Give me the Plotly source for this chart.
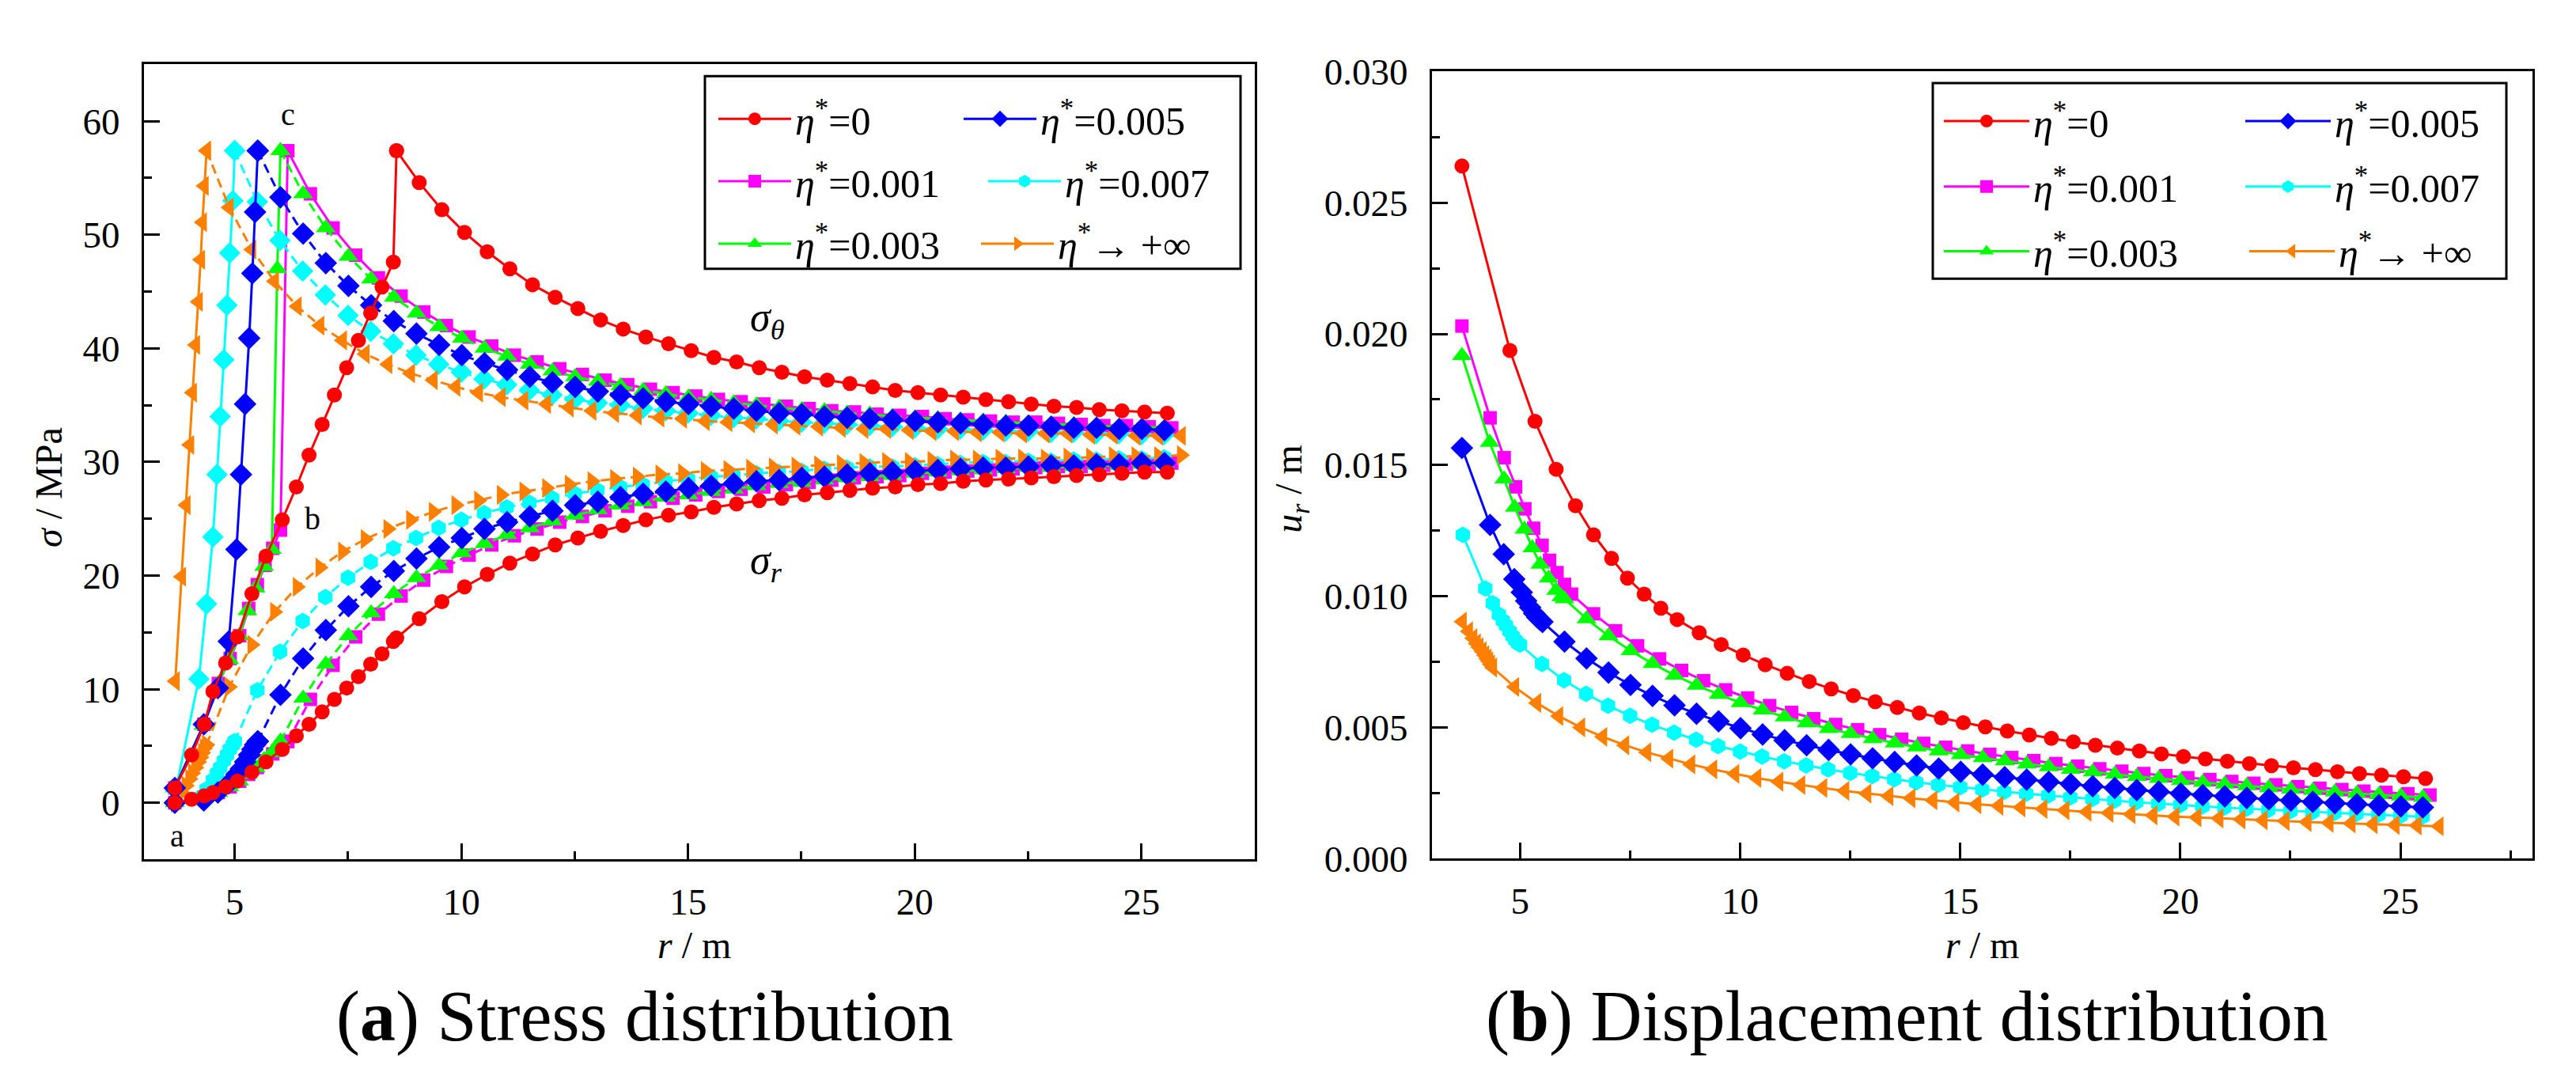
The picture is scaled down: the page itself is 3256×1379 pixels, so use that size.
import plotly.graph_objects as go

W, H = 3256, 1379
FONT = "Liberation Serif"

# ---------------- data ----------------
# eta* = 0 (red)
r_pl_red_s = [3.68, 4.05, 4.33, 4.52, 4.80, 5.06, 5.38, 5.69, 6.05, 6.36, 6.64, 6.93, 7.20, 7.47, 7.73, 8.00, 8.25, 8.50]
sth_pl_red = [1.3, 4.2, 6.9, 9.8, 12.3, 14.6, 18.4, 21.7, 24.9, 27.8, 30.6, 33.3, 35.9, 38.3, 40.7, 43.1, 45.4, 47.6]
sr_pl_red = [0.0, 0.3, 0.6, 0.9, 1.4, 1.9, 2.7, 3.6, 4.7, 5.9, 6.9, 8.0, 9.1, 10.1, 11.1, 12.2, 13.1, 14.2]
r_pl_red_u = [3.68, 4.77, 5.34, 5.82, 6.26, 6.67, 7.08, 7.44, 7.82, 8.20]
u_pl_red = [0.0264, 0.01937, 0.01667, 0.01484, 0.01345, 0.01234, 0.01144, 0.01069, 0.01008, 0.00954]
r_el_red = [8.57, 9.07, 9.57, 10.07, 10.57, 11.07, 11.57, 12.07, 12.57, 13.07, 13.57, 14.07, 14.57, 15.07,
            15.57, 16.07, 16.57, 17.07, 17.57, 18.07, 18.57, 19.07, 19.57, 20.07, 20.57, 21.07, 21.57,
            22.07, 22.57, 23.07, 23.57, 24.07, 24.57, 25.07, 25.57]
sth_el_red = [57.4, 54.6, 52.2, 50.2, 48.5, 47.0, 45.6, 44.5, 43.5, 42.5, 41.7, 41.0, 40.4, 39.8, 39.2, 38.8,
              38.3, 37.9, 37.5, 37.2, 36.9, 36.6, 36.3, 36.1, 35.9, 35.7, 35.5, 35.3, 35.1, 34.9, 34.8, 34.6,
              34.5, 34.4, 34.3]
sr_el_red = [14.5, 16.2, 17.7, 19.0, 20.1, 21.1, 21.9, 22.7, 23.3, 23.9, 24.4, 24.9, 25.3, 25.6, 26.0, 26.3,
             26.6, 26.8, 27.1, 27.3, 27.5, 27.7, 27.8, 28.0, 28.1, 28.3, 28.4, 28.5, 28.6, 28.7, 28.8, 28.9,
             29.0, 29.1, 29.1]
u_el_red = [0.00911, 0.00861, 0.00816, 0.00776, 0.00739, 0.00706, 0.00675, 0.00647, 0.00621, 0.00598,
            0.00576, 0.00555, 0.00536, 0.00518, 0.00502, 0.00486, 0.00471, 0.00458, 0.00445, 0.00432,
            0.00421, 0.0041, 0.00399, 0.00389, 0.0038, 0.00371, 0.00362, 0.00354, 0.00346, 0.00339,
            0.00331, 0.00324, 0.00318, 0.00312, 0.00305]

# eta* = 0.001 (magenta)
r_pl_mag = [3.68, 4.32, 4.64, 4.90, 5.11, 5.31, 5.50, 5.67, 5.84, 6.01]
sth_pl_mag = [1.3, 6.9, 10.5, 12.7, 14.7, 17.1, 19.2, 20.9, 22.4, 24.0]
sr_pl_mag = [0.0, 0.5, 0.9, 1.4, 1.9, 2.5, 3.1, 3.7, 4.3, 4.9]
u_pl_mag = [0.0203, 0.0168, 0.01528, 0.01417, 0.01333, 0.01259, 0.01194, 0.01137, 0.0109, 0.01045]
r_el_mag = [6.17, 6.67, 7.17, 7.67, 8.17, 8.67, 9.17, 9.67, 10.17, 10.67, 11.17, 11.67, 12.17, 12.67, 13.17,
            13.67, 14.17, 14.67, 15.17, 15.67, 16.17, 16.67, 17.17, 17.67, 18.17, 18.67, 19.17, 19.67,
            20.17, 20.67, 21.17, 21.67, 22.17, 22.67, 23.17, 23.67, 24.17, 24.67, 25.17, 25.67]
sth_el_mag = [57.4, 53.6, 50.6, 48.2, 46.2, 44.6, 43.2, 42.0, 41.0, 40.2, 39.4, 38.8, 38.2, 37.7, 37.2, 36.8,
              36.4, 36.1, 35.8, 35.5, 35.3, 35.1, 34.9, 34.7, 34.5, 34.4, 34.2, 34.1, 34.0, 33.8, 33.7, 33.6,
              33.5, 33.5, 33.4, 33.3, 33.2, 33.2, 33.1, 33.0]
sr_el_mag = [5.4, 9.1, 12.1, 14.6, 16.6, 18.2, 19.6, 20.8, 21.8, 22.7, 23.5, 24.1, 24.7, 25.2, 25.7, 26.1,
             26.5, 26.8, 27.1, 27.4, 27.6, 27.8, 28.0, 28.2, 28.4, 28.6, 28.7, 28.8, 29.0, 29.1, 29.2, 29.3,
             29.4, 29.5, 29.6, 29.6, 29.7, 29.8, 29.8, 29.9]
u_el_mag = [0.01008, 0.00933, 0.00868, 0.00811, 0.00761, 0.00717, 0.00678, 0.00643, 0.00612, 0.00583,
            0.00557, 0.00533, 0.00511, 0.00491, 0.00472, 0.00455, 0.00439, 0.00424, 0.0041, 0.00397,
            0.00385, 0.00373, 0.00362, 0.00352, 0.00342, 0.00333, 0.00324, 0.00316, 0.00308, 0.00301,
            0.00294, 0.00287, 0.00281, 0.00274, 0.00268, 0.00263, 0.00257, 0.00252, 0.00247, 0.00242]

# eta* = 0.003 (green)
r_pl_grn = [3.68, 4.31, 4.64, 4.88, 5.10, 5.28, 5.46, 5.65, 5.82, 5.94]
sth_pl_grn = [1.3, 6.8, 10.5, 12.6, 14.7, 16.9, 18.9, 20.8, 22.3, 47.0]
sr_pl_grn = [0.0, 0.5, 0.9, 1.4, 1.9, 2.5, 3.1, 3.8, 4.4, 4.9]
u_pl_grn = [0.01917, 0.01586, 0.01447, 0.01339, 0.01255, 0.01184, 0.01122, 0.01069, 0.01022, 0.00998]
r_el_grn = [6.01, 6.51, 7.01, 7.51, 8.01, 8.51, 9.01, 9.51, 10.01, 10.51, 11.01, 11.51, 12.01, 12.51, 13.01,
            13.51, 14.01, 14.51, 15.01, 15.51, 16.01, 16.51, 17.01, 17.51, 18.01, 18.51, 19.01, 19.51,
            20.01, 20.51, 21.01, 21.51, 22.01, 22.51, 23.01, 23.51, 24.01, 24.51, 25.01, 25.51]
sth_el_grn = [57.4, 53.6, 50.6, 48.1, 46.1, 44.5, 43.1, 41.9, 40.9, 40.0, 39.3, 38.6, 38.0, 37.5, 37.1, 36.7,
              36.3, 36.0, 35.7, 35.5, 35.2, 35.0, 34.8, 34.6, 34.5, 34.3, 34.2, 34.0, 33.9, 33.8, 33.7, 33.6,
              33.5, 33.4, 33.3, 33.3, 33.2, 33.1, 33.1, 33.0]
sr_el_grn = [5.4, 9.2, 12.2, 14.7, 16.7, 18.4, 19.8, 20.9, 22.0, 22.8, 23.6, 24.2, 24.8, 25.3, 25.8, 26.2,
             26.5, 26.9, 27.1, 27.4, 27.6, 27.9, 28.1, 28.2, 28.4, 28.6, 28.7, 28.8, 29.0, 29.1, 29.2, 29.3,
             29.4, 29.5, 29.5, 29.6, 29.7, 29.7, 29.8, 29.9]
u_el_grn = [0.0099, 0.00914, 0.00849, 0.00792, 0.00743, 0.00699, 0.0066, 0.00626, 0.00594, 0.00566,
            0.0054, 0.00517, 0.00495, 0.00476, 0.00457, 0.0044, 0.00425, 0.0041, 0.00396, 0.00384,
            0.00372, 0.0036, 0.0035, 0.0034, 0.0033, 0.00321, 0.00313, 0.00305, 0.00297, 0.0029,
            0.00283, 0.00277, 0.0027, 0.00264, 0.00259, 0.00253, 0.00248, 0.00243, 0.00238, 0.00233]

# eta* = 0.005 (blue)
r_pl_blu = [3.68, 4.32, 4.63, 4.87, 5.04, 5.14, 5.23, 5.32, 5.39, 5.45]
sth_pl_blu = [1.3, 6.9, 10.1, 14.2, 22.3, 28.9, 35.1, 40.9, 46.6, 52.0]
sr_pl_blu = [0.0, 0.2, 0.9, 1.7, 2.5, 3.0, 3.6, 4.2, 4.7, 5.1]
u_pl_blu = [0.01565, 0.01272, 0.0116, 0.01065, 0.01015, 0.00982, 0.00957, 0.00935, 0.0092, 0.00911]
r_el_blu = [5.51, 6.01, 6.51, 7.01, 7.51, 8.01, 8.51, 9.01, 9.51, 10.01, 10.51, 11.01, 11.51, 12.01, 12.51,
            13.01, 13.51, 14.01, 14.51, 15.01, 15.51, 16.01, 16.51, 17.01, 17.51, 18.01, 18.51, 19.01,
            19.51, 20.01, 20.51, 21.01, 21.51, 22.01, 22.51, 23.01, 23.51, 24.01, 24.51, 25.01, 25.51]
sth_el_blu = [57.4, 53.3, 50.1, 47.5, 45.5, 43.8, 42.4, 41.3, 40.3, 39.4, 38.7, 38.1, 37.5, 37.0, 36.6, 36.2,
              35.9, 35.6, 35.3, 35.1, 34.9, 34.7, 34.5, 34.3, 34.2, 34.0, 33.9, 33.8, 33.7, 33.6, 33.5, 33.4,
              33.3, 33.2, 33.2, 33.1, 33.0, 33.0, 32.9, 32.9, 32.8]
sr_el_blu = [5.4, 9.5, 12.7, 15.2, 17.3, 19.0, 20.4, 21.5, 22.5, 23.3, 24.1, 24.7, 25.2, 25.7, 26.2, 26.5,
             26.9, 27.2, 27.4, 27.7, 27.9, 28.1, 28.3, 28.4, 28.6, 28.7, 28.9, 29.0, 29.1, 29.2, 29.3, 29.4,
             29.5, 29.5, 29.6, 29.7, 29.7, 29.8, 29.8, 29.9, 29.9]
u_el_blu = [0.00902, 0.00827, 0.00763, 0.00709, 0.00662, 0.0062, 0.00584, 0.00552, 0.00523, 0.00497,
            0.00473, 0.00451, 0.00432, 0.00414, 0.00397, 0.00382, 0.00368, 0.00355, 0.00343, 0.00331,
            0.0032, 0.0031, 0.00301, 0.00292, 0.00284, 0.00276, 0.00269, 0.00261, 0.00255, 0.00248,
            0.00242, 0.00237, 0.00231, 0.00226, 0.00221, 0.00216, 0.00211, 0.00207, 0.00203, 0.00199, 0.00195]

# eta* = 0.007 (cyan)
r_pl_cyn = [3.70, 4.21, 4.38, 4.52, 4.61, 4.68, 4.76, 4.83, 4.89, 4.96]
sth_pl_cyn = [1.1, 10.9, 17.5, 23.4, 28.9, 34.0, 39.0, 43.8, 48.4, 53.0]
sr_pl_cyn = [0.0, 0.4, 1.2, 2.0, 2.6, 3.1, 3.7, 4.2, 4.7, 5.1]
u_pl_cyn = [0.01234, 0.0103, 0.00973, 0.0093, 0.00907, 0.00889, 0.00867, 0.00848, 0.00833, 0.0082]
r_el_cyn = [5.0, 5.5, 6.0, 6.5, 7.0, 7.5, 8.0, 8.5, 9.0, 9.5, 10.0, 10.5, 11.0, 11.5, 12.0, 12.5, 13.0, 13.5,
            14.0, 14.5, 15.0, 15.5, 16.0, 16.5, 17.0, 17.5, 18.0, 18.5, 19.0, 19.5, 20.0, 20.5, 21.0, 21.5,
            22.0, 22.5, 23.0, 23.5, 24.0, 24.5, 25.0, 25.5]
sth_el_cyn = [57.4, 52.9, 49.5, 46.8, 44.7, 42.9, 41.5, 40.4, 39.4, 38.6, 37.9, 37.3, 36.8, 36.3, 35.9, 35.5,
              35.2, 35.0, 34.7, 34.5, 34.3, 34.1, 33.9, 33.8, 33.6, 33.5, 33.4, 33.3, 33.2, 33.1, 33.0, 32.9,
              32.9, 32.8, 32.7, 32.7, 32.6, 32.6, 32.5, 32.5, 32.4, 32.4]
sr_el_cyn = [5.4, 9.9, 13.3, 16.0, 18.1, 19.8, 21.2, 22.4, 23.3, 24.2, 24.9, 25.5, 26.0, 26.4, 26.8, 27.2,
             27.5, 27.8, 28.0, 28.3, 28.5, 28.7, 28.8, 29.0, 29.1, 29.2, 29.4, 29.5, 29.6, 29.6, 29.7, 29.8,
             29.9, 30.0, 30.0, 30.1, 30.1, 30.2, 30.2, 30.3, 30.3, 30.4]
u_el_cyn = [0.00816, 0.00742, 0.0068, 0.00628, 0.00583, 0.00544, 0.0051, 0.0048, 0.00453, 0.00429,
            0.00408, 0.00389, 0.00371, 0.00355, 0.0034, 0.00326, 0.00314, 0.00302, 0.00291, 0.00281,
            0.00272, 0.00263, 0.00255, 0.00247, 0.0024, 0.00233, 0.00227, 0.00221, 0.00215, 0.00209,
            0.00204, 0.00199, 0.00194, 0.0019, 0.00185, 0.00181, 0.00177, 0.00174, 0.0017, 0.00167,
            0.00163, 0.0016]

# eta* -> +inf (orange)
r_pl_org = [3.69, 3.83, 3.93, 4.01, 4.07, 4.14, 4.20, 4.25, 4.29, 4.33]
sth_pl_org = [10.7, 19.9, 26.2, 31.5, 36.1, 40.3, 44.1, 47.8, 51.1, 54.3]
sr_pl_org = [0.0, 0.9, 1.5, 2.1, 2.6, 3.1, 3.6, 4.0, 4.4, 4.8]
u_pl_org = [0.00903, 0.00866, 0.0084, 0.0082, 0.00805, 0.0079, 0.00775, 0.00762, 0.00752, 0.0074]
r_el_org = [4.38, 4.88, 5.38, 5.88, 6.38, 6.88, 7.38, 7.88, 8.38, 8.88, 9.38, 9.88, 10.38, 10.88, 11.38,
            11.88, 12.38, 12.88, 13.38, 13.88, 14.38, 14.88, 15.38, 15.88, 16.38, 16.88, 17.38, 17.88,
            18.38, 18.88, 19.38, 19.88, 20.38, 20.88, 21.38, 21.88, 22.38, 22.88, 23.38, 23.88, 24.38,
            24.88, 25.38, 25.88]
sth_el_org = [57.4, 52.4, 48.7, 45.9, 43.7, 42.0, 40.7, 39.5, 38.6, 37.8, 37.2, 36.6, 36.1, 35.7, 35.4, 35.1,
              34.8, 34.5, 34.3, 34.1, 33.9, 33.8, 33.6, 33.5, 33.4, 33.3, 33.2, 33.1, 33.0, 32.9, 32.9, 32.8,
              32.7, 32.7, 32.6, 32.6, 32.5, 32.5, 32.5, 32.4, 32.4, 32.3, 32.3, 32.3]
sr_el_org = [5.1, 10.2, 13.9, 16.8, 19.0, 20.7, 22.1, 23.2, 24.1, 24.9, 25.6, 26.2, 26.6, 27.1, 27.4, 27.7,
             28.0, 28.3, 28.5, 28.7, 28.9, 29.0, 29.2, 29.3, 29.4, 29.5, 29.6, 29.7, 29.8, 29.9, 30.0, 30.0,
             30.1, 30.2, 30.2, 30.3, 30.3, 30.3, 30.4, 30.4, 30.5, 30.5, 30.5, 30.6]
u_el_org = [0.00728, 0.00654, 0.00593, 0.00543, 0.005, 0.00464, 0.00432, 0.00405, 0.00381, 0.00359,
            0.0034, 0.00323, 0.00307, 0.00293, 0.0028, 0.00269, 0.00258, 0.00248, 0.00238, 0.0023,
            0.00222, 0.00214, 0.00207, 0.00201, 0.00195, 0.00189, 0.00184, 0.00178, 0.00174, 0.00169,
            0.00165, 0.0016, 0.00157, 0.00153, 0.00149, 0.00146, 0.00143, 0.00139, 0.00136, 0.00134,
            0.00131, 0.00128, 0.00126, 0.00123]

# ---------------- styling ----------------
DASH = "12px,7px"
LW = 3

# (key, color, symbol sigma_theta, symbol sigma_r, symbol u, size, dash elastic theta, dash elastic r, stress, disp)
series = [
    ("0.001", "#FF00FF", "square", "square", "square", 17, "solid", DASH,
     (r_pl_mag, sth_pl_mag, sr_pl_mag, r_el_mag, sth_el_mag, sr_el_mag), (r_pl_mag, u_pl_mag, r_el_mag, u_el_mag)),
    ("0.003", "#00FF00", "triangle-up", "triangle-up", "triangle-up", 22, DASH, DASH,
     (r_pl_grn, sth_pl_grn, sr_pl_grn, r_el_grn, sth_el_grn, sr_el_grn), (r_pl_grn, u_pl_grn, r_el_grn, u_el_grn)),
    ("0.007", "#00FFFF", "diamond", "hexagon", "hexagon", 21, DASH, DASH,
     (r_pl_cyn, sth_pl_cyn, sr_pl_cyn, r_el_cyn, sth_el_cyn, sr_el_cyn), (r_pl_cyn, u_pl_cyn, r_el_cyn, u_el_cyn)),
    ("+inf", "#FF8000", "triangle-left", "triangle-right", "triangle-left", 22, DASH, DASH,
     (r_pl_org, sth_pl_org, sr_pl_org, r_el_org, sth_el_org, sr_el_org), (r_pl_org, u_pl_org, r_el_org, u_el_org)),
    ("0.005", "#0000FF", "diamond", "diamond", "diamond", 22, DASH, DASH,
     (r_pl_blu, sth_pl_blu, sr_pl_blu, r_el_blu, sth_el_blu, sr_el_blu), (r_pl_blu, u_pl_blu, r_el_blu, u_el_blu)),
    ("0", "#FF0000", "circle", "circle", "circle", 19, "solid", "solid",
     (r_pl_red_s, sth_pl_red, sr_pl_red, r_el_red, sth_el_red, sr_el_red), (r_pl_red_u, u_pl_red, r_el_red, u_el_red)),
]


def px(x):
    return x / W


def py(y):
    return 1 - y / H


fig = go.Figure()


def add_line(x, y, color, sym, size, dash, xa, ya):
    fig.add_trace(go.Scatter(
        x=x, y=y, mode="lines+markers", xaxis=xa, yaxis=ya, showlegend=False,
        line=dict(color=color, width=LW, dash=dash),
        marker=dict(symbol=sym, size=size, color=color, line=dict(width=0)),
        hoverinfo="skip"))


for key, col, s_th, s_r, s_u, size, d_th, d_r, st, dp in series:
    r_pl, th_pl, rr_pl, r_el, th_el, rr_el = st
    add_line(r_pl + r_el[:1], th_pl + th_el[:1], col, s_th, size, "solid", "x", "y")
    add_line(r_el, th_el, col, s_th, size, d_th, "x", "y")
    add_line(r_pl + r_el[:1], rr_pl + rr_el[:1], col, s_r, size, "solid", "x", "y")
    add_line(r_el, rr_el, col, s_r, size, d_r, "x", "y")
    ru_pl, u_pl, ru_el, u_el = dp
    add_line(ru_pl + ru_el, u_pl + u_el, col, s_u, size, "solid", "x2", "y2")

# ---------------- legends (one legend per entry, Origin-like 2x3 grid) ----------------
legend_layout = {}
style = {s[0]: s for s in series}
left_entries = [  # key, legend left px, row centre px, marker symbol
    ("0", 903, 129, "circle"), ("0.005", 1213, 129, "diamond"),
    ("0.001", 903, 211, "square"), ("0.007", 1244, 211, "hexagon"),
    ("0.003", 903, 293, "triangle-up"), ("+inf", 1235, 293, "triangle-right"),
]
right_entries = [
    ("0", 2452, 132, "circle"), ("0.005", 2833, 132, "diamond"),
    ("0.001", 2452, 218, "square"), ("0.007", 2833, 218, "hexagon"),
    ("0.003", 2452, 303, "triangle-up"), ("+inf", 2838, 303, "triangle-left"),
]
n = 0
for entries, iw in ((left_entries, 92), (right_entries, 108)):
    for key, lx, ly, sym in entries:
        n += 1
        lname = "legend" if n == 1 else f"legend{n}"
        col = style[key][1]
        text = ("<i>η</i><sup>*</sup>→ +∞" if key == "+inf" else f"<i>η</i><sup>*</sup>={key}")
        fig.add_trace(go.Scatter(
            x=[None], y=[None], mode="lines+markers", name=text, legend=lname,
            xaxis="x", yaxis="y", showlegend=True,
            line=dict(color=col, width=LW),
            marker=dict(symbol=sym, size=18, color=col, line=dict(width=0))))
        legend_layout[lname] = dict(
            x=px(lx), y=py(ly), xanchor="left", yanchor="middle",
            bgcolor="rgba(0,0,0,0)", borderwidth=0, itemwidth=iw,
            font=dict(family=FONT, size=50, color="black"))

axis_common = dict(
    showline=True, linecolor="black", linewidth=3, mirror=True,
    ticks="inside", ticklen=20, tickwidth=3, tickcolor="black",
    showgrid=False, zeroline=False,
    tickfont=dict(family=FONT, size=47, color="black"),
)
minor_common = dict(ticks="inside", ticklen=10, tickwidth=3, tickcolor="black", showgrid=False)

fig.update_layout(
    width=W, height=H,
    margin=dict(l=0, r=0, t=0, b=0),
    paper_bgcolor="white", plot_bgcolor="white",
    font=dict(family=FONT, size=47, color="black"),
    showlegend=True,
    xaxis=dict(domain=[px(182), px(1586)], anchor="y", range=[3, 27.5], dtick=5, tick0=0,
               minor=dict(dtick=2.5, **minor_common), ticklabelstandoff=10, **axis_common),
    yaxis=dict(domain=[py(1102), py(57.5)], anchor="x", range=[-5, 65], dtick=10, tick0=0,
               minor=dict(dtick=5, **minor_common), ticklabelstandoff=18, **axis_common),
    xaxis2=dict(domain=[px(1810), px(3201)], anchor="y2", range=[3, 28], dtick=5, tick0=0,
                minor=dict(dtick=2.5, **minor_common), ticklabelstandoff=10, **axis_common),
    yaxis2=dict(domain=[py(1100.7), py(67)], anchor="x2", range=[0, 0.030], dtick=0.005, tick0=0,
                tickformat=".3f", minor=dict(dtick=0.0025, **minor_common), ticklabelstandoff=18,
                **axis_common),
    **legend_layout,
)

# legend frames
for x0, y0, x1, y1 in ((891, 73, 1568, 326), (2443, 82, 3168, 339)):
    fig.add_shape(type="rect", xref="paper", yref="paper", x0=px(x0), x1=px(x1), y0=py(y1), y1=py(y0),
                  line=dict(color="black", width=3), fillcolor="rgba(0,0,0,0)", layer="above")


def note(text, x, y, size=48, angle=0, ref="paper"):
    if ref == "paper":
        fig.add_annotation(text=text, x=px(x), y=py(y), xref="paper", yref="paper", showarrow=False,
                           textangle=angle, font=dict(family=FONT, size=size, color="black"),
                           xanchor="center", yanchor="middle")
    else:
        fig.add_annotation(text=text, x=x, y=y, xref="x", yref="y", showarrow=False,
                           font=dict(family=FONT, size=size, color="black"),
                           xanchor="center", yanchor="middle")


# axis titles
note("<i>σ</i> / MPa", 62, 613, angle=-90)
note("<i>r</i> / m", 877, 1214)
note("<i>u</i><sub><i>r</i></sub> / m", 1632, 615, angle=-90)
note("<i>r</i> / m", 2505, 1214)

# sub-figure captions
note("(<b>a</b>) Stress distribution", 815, 1308, size=90)
note("(<b>b</b>) Displacement distribution", 2410, 1308, size=90)

# labels inside the stress plot
note("a", 3.74, -2.9, size=40, ref="data")
note("b", 6.72, 25.0, size=40, ref="data")
note("c", 6.18, 60.6, size=40, ref="data")
note("<i>σ</i><sub><i>θ</i></sub>", 16.75, 42.5, size=52, ref="data")
note("<i>σ</i><sub><i>r</i></sub>", 16.72, 21.1, size=52, ref="data")

fig.write_html("out.html", config={"displayModeBar": False},
               post_script="document.body.style.margin='0';document.body.style.overflow='hidden';")
